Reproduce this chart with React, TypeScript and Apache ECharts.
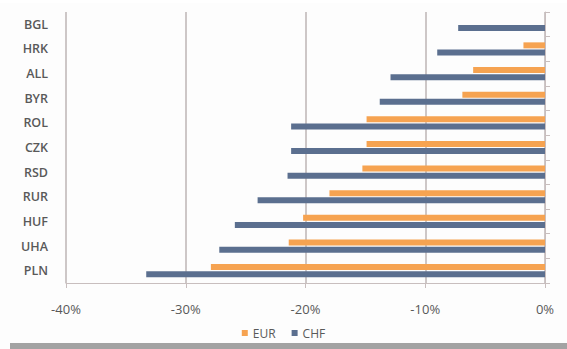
import React, { useEffect, useRef } from "react";
import * as echarts from "echarts";

const categories = ["PLN", "UHA", "HUF", "RUR", "RSD", "CZK", "ROL", "BYR", "ALL", "HRK", "BGL"];
const eurValues = [-27.9, -21.4, -20.2, -18.0, -15.25, -14.9, -14.9, -6.9, -6.0, -1.8, 0];
const chfValues = [-33.3, -27.2, -25.9, -24.0, -21.5, -21.2, -21.2, -13.8, -12.9, -9.0, -7.25];
const xTicks = [-40, -30, -20, -10, 0];

export default function App() {
  const ref = useRef<HTMLDivElement>(null);
  useEffect(() => {
    if (!ref.current) return;
    const chart = echarts.init(ref.current, null, { renderer: "svg" });
    const font = "'Open Sans', sans-serif";
    chart.setOption({
      animation: false,
      backgroundColor: "#fdfdfd",
      graphic: [
        { type: "rect", left: 10, top: 343, shape: { width: 557, height: 6 }, style: { fill: "#a3a3a3" } },
        { type: "rect", left: 0, top: 0, shape: { width: 567, height: 3 }, style: { fill: "#ffffff" } },
      ],
      grid: { left: 66, right: 22, top: 12, bottom: 66, containLabel: false },
      legend: {
        data: ["EUR", "CHF"],
        bottom: 5,
        left: "center",
        icon: "rect",
        itemWidth: 6,
        itemHeight: 6,
        itemGap: 16,
        textStyle: { color: "#595959", fontSize: 12, fontFamily: font },
      },
      xAxis: {
        type: "value",
        min: -40,
        max: 0,
        interval: 10,
        axisLine: { show: true, lineStyle: { color: "#c8bebe", width: 1 } },
        axisTick: { show: true, length: 5, lineStyle: { color: "#c8bebe" } },
        axisLabel: {
          formatter: (v: number) => (xTicks.includes(v) ? `${v}%` : ""),
          color: "#595959",
          fontSize: 13,
          fontFamily: font,
          margin: 19,
        },
        splitLine: { show: true, lineStyle: { color: "#bdb5b5", width: 1.5 } },
      },
      yAxis: [
        {
          type: "category",
          data: categories,
          position: "left",
          axisLine: { show: false },
          axisTick: { show: false },
          axisLabel: { color: "#595959", fontSize: 12.5, fontWeight: 600, fontFamily: font, margin: 18 },
        },
        {
          type: "category",
          data: categories,
          position: "right",
          axisLine: { show: true, lineStyle: { color: "#c8bebe", width: 1 } },
          axisTick: { show: true, length: 5, lineStyle: { color: "#c8bebe" } },
          axisLabel: { show: false },
        },
      ],
      series: [
        {
          name: "EUR",
          type: "bar",
          data: eurValues,
          barWidth: 6,
          barGap: "20%",
          itemStyle: { color: "#f6a351" },
        },
        {
          name: "CHF",
          type: "bar",
          data: chfValues,
          barWidth: 6,
          barGap: "20%",
          itemStyle: { color: "#5b6f8f" },
        },
      ],
    });
    return () => chart.dispose();
  }, []);
  return (
    <div style={{ position: "absolute", left: 0, top: 0, width: 567, height: 349 }}>
      <div ref={ref} style={{ width: 567, height: 349 }} />
    </div>
  );
}
